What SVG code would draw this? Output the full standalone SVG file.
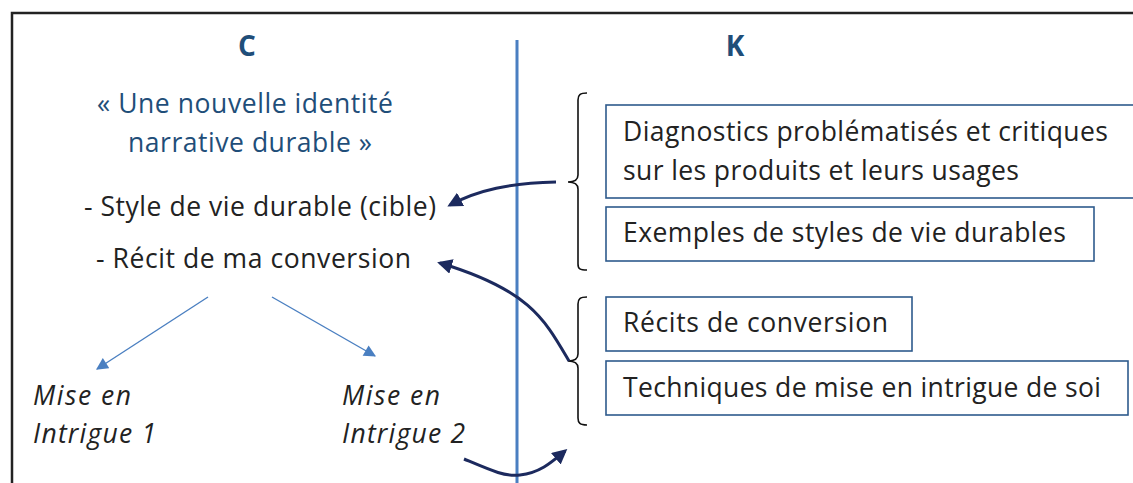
<svg xmlns="http://www.w3.org/2000/svg" width="1133" height="483" viewBox="0 0 1133 483">
<style>
.t{font-family:"Open Sans","Noto Sans",sans-serif;fill:#222;font-size:26.5px}
.h{font-family:"Open Sans","Noto Sans",sans-serif;fill:#1f4e79;font-size:28px;font-weight:bold}
.q{font-family:"Open Sans","Noto Sans",sans-serif;fill:#1f4e79;font-size:26.5px}
.i{font-style:italic}
.box{fill:#fff;stroke:#2e5a8c;stroke-width:1.6}
.br{fill:none;stroke:#111;stroke-width:1.6}
.bl{fill:none;stroke:#4a7fc1;stroke-width:1.4}
.nv{fill:none;stroke:#1c2a5e;stroke-width:3}
</style>
<defs>
<marker id="ab" viewBox="0 0 10 10" refX="9" refY="5" markerWidth="13" markerHeight="12" markerUnits="userSpaceOnUse" orient="auto"><path d="M0,0L10,5L0,10z" fill="#4a7fc1"/></marker>
<marker id="an" viewBox="0 0 10 10" refX="8" refY="5" markerWidth="5" markerHeight="5" orient="auto"><path d="M0,0L10,5L0,10z" fill="#1c2a5e"/></marker>
</defs>
<rect width="1133" height="483" fill="#fff"/>
<g id="frame"><path d="M12,483V13H1133" fill="none" stroke="#222" stroke-width="2.5"/></g>
<g id="divider"><line x1="517" y1="40" x2="517" y2="483" stroke="#4a7fc1" stroke-width="3"/></g>
<g id="titleC"><text class="h" x="247" y="56" text-anchor="middle">C</text></g>
<g id="titleK"><text class="h" x="735" y="56" text-anchor="middle">K</text></g>
<g id="concept"><text class="q" x="245" y="113" text-anchor="middle" textLength="296">« Une nouvelle identité</text><text class="q" x="250" y="152" text-anchor="middle" textLength="244">narrative durable »</text></g>
<g id="style"><text class="t" x="84" y="216" textLength="352">- Style de vie durable (cible)</text></g>
<g id="recit"><text class="t" x="96" y="268" textLength="315">- Récit de ma conversion</text></g>
<g id="mise1"><text class="t i" x="33" y="405" textLength="98">Mise en</text><text class="t i" x="33" y="443" textLength="123">Intrigue 1</text></g>
<g id="mise2"><text class="t i" x="342" y="405" textLength="98">Mise en</text><text class="t i" x="342" y="443" textLength="123">Intrigue 2</text></g>
<g id="k1"><rect class="box" x="606" y="105" width="540" height="93"/><text class="t" x="623" y="141" textLength="485">Diagnostics problématisés et critiques</text><text class="t" x="623" y="180" textLength="396">sur les produits et leurs usages</text></g>
<g id="k2"><rect class="box" x="606" y="207" width="488" height="54"/><text class="t" x="623" y="242" textLength="443">Exemples de styles de vie durables</text></g>
<g id="k3"><rect class="box" x="606" y="297" width="306" height="54"/><text class="t" x="623" y="332" textLength="265">Récits de conversion</text></g>
<g id="k4"><rect class="box" x="606" y="361" width="522" height="54"/><text class="t" x="623" y="397" textLength="478">Techniques de mise en intrigue de soi</text></g>
<g id="braces">
<path class="br" d="M587,93C580,93 578,95 578,100V175C578,180 575,182 568,182C575,182 578,184 578,189V264C578,269 580,270 587,270"/>
<path class="br" d="M587,297C580,297 578,299 578,304V354C578,359 575,361 568,361C575,361 578,363 578,368V418C578,423 580,425 587,425"/>
</g>
<g id="connectors">
<line class="bl" x1="208" y1="297" x2="97" y2="369" marker-end="url(#ab)"/>
<line class="bl" x1="272" y1="297" x2="375" y2="356" marker-end="url(#ab)"/>
<path class="nv" d="M556,182C510,183 478,190 450,205" marker-end="url(#an)"/>
<path class="nv" d="M569,361C545,320 530,290 440,263" marker-end="url(#an)"/>
<path class="nv" d="M464,459C490,470 505,477 520,475C540,473 552,462 565,451" marker-end="url(#an)"/>
</g>
</svg>
